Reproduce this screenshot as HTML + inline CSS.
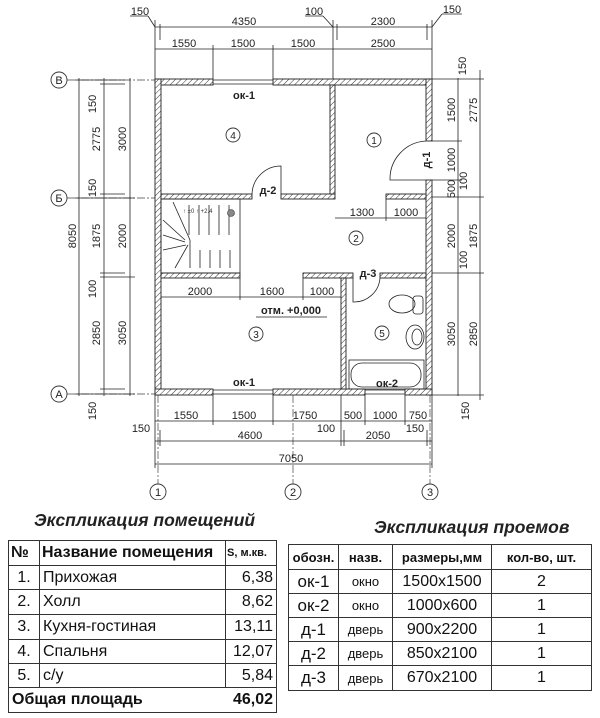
<!DOCTYPE html>
<html><head><meta charset="utf-8"><style>
html,body{margin:0;padding:0;background:#fff;}
svg{display:block;font-family:"Liberation Sans",sans-serif;}
.d{font-size:11px;fill:#222;}
.l{stroke:#222;stroke-width:0.8;fill:none;}
.ax{stroke:#444;stroke-width:0.7;stroke-dasharray:8 2 2 2;fill:none;}
.w{fill:url(#h);stroke:#222;stroke-width:0.9;}
table{border-collapse:collapse;position:absolute;font-family:"Liberation Sans",sans-serif;color:#111;table-layout:fixed;}
td{border:1.3px solid #333;padding:0 3px;font-size:16px;overflow:hidden;}
</style></head><body>
<div style="position:relative;width:600px;height:718px;overflow:hidden">
<svg width="600" height="500" viewBox="0 0 600 500">
<defs><pattern id="h" width="4" height="4" patternUnits="userSpaceOnUse" patternTransform="rotate(45)"><rect width="4" height="4" fill="#fff"/><line x1="0" y1="0" x2="0" y2="4" stroke="#333" stroke-width="1"/></pattern></defs>
<g class="ax"><line x1="67" y1="80" x2="155" y2="80"/><line x1="67" y1="198" x2="155" y2="198"/><line x1="67" y1="394" x2="155" y2="394"/>
<line x1="158" y1="395" x2="158" y2="484"/><line x1="293" y1="395" x2="293" y2="484"/><line x1="430" y1="395" x2="430" y2="484"/></g>
<g fill="#fff" stroke="#333" stroke-width="0.9"><circle cx="59" cy="80" r="8"/><circle cx="59" cy="198" r="8"/><circle cx="59" cy="394" r="8"/>
<circle cx="158" cy="492" r="8"/><circle cx="293" cy="492" r="8"/><circle cx="430" cy="492" r="8"/></g>
<g font-size="11" text-anchor="middle" fill="#222"><text x="59" y="84">В</text><text x="59" y="202">Б</text><text x="59" y="398">А</text>
<text x="158" y="496">1</text><text x="293" y="496">2</text><text x="430" y="496">3</text></g>
<rect class="w" x="155" y="79" width="58" height="6"/><rect class="w" x="273" y="79" width="159" height="6"/>
<line class="l" x1="213" y1="80" x2="273" y2="80"/><line class="l" x1="213" y1="84" x2="273" y2="84"/>
<rect class="w" x="155" y="79" width="6" height="316"/>
<rect class="w" x="426" y="79" width="6" height="62"/><rect class="w" x="426" y="180" width="6" height="215"/>
<rect class="w" x="155" y="389" width="58" height="6"/><rect class="w" x="273" y="389" width="92" height="6"/><rect class="w" x="405" y="389" width="27" height="6"/>
<line class="l" x1="213" y1="390" x2="273" y2="390"/><line class="l" x1="213" y1="394" x2="273" y2="394"/>
<line class="l" x1="365" y1="390" x2="405" y2="390"/><line class="l" x1="365" y1="394" x2="405" y2="394"/>
<rect class="w" x="161" y="194" width="91" height="5"/><rect class="w" x="281" y="194" width="54" height="5"/>
<rect class="w" x="330" y="85" width="5" height="109"/><rect class="w" x="386" y="194" width="40" height="5"/>
<rect class="w" x="161" y="273" width="79" height="5"/><rect class="w" x="303" y="273" width="50" height="5"/><rect class="w" x="380" y="273" width="46" height="5"/>
<rect class="w" x="341" y="278" width="5" height="111"/>
<path class="l" d="M281 194 V166 A29 29 0 0 0 252 194"/>
<path class="l" d="M426 180 H390 A38 38 0 0 1 426 141"/>
<path class="l" d="M353 278 V302 A26 26 0 0 0 380 278"/>
<g class="l"><rect x="161" y="199" width="79" height="74"/>
<line x1="189" y1="205" x2="189" y2="235"/><line x1="199" y1="205" x2="199" y2="235"/><line x1="209" y1="205" x2="209" y2="235"/><line x1="219" y1="205" x2="219" y2="235"/><line x1="229" y1="205" x2="229" y2="235"/>
<line x1="173" y1="202" x2="190" y2="240"/><line x1="163" y1="220" x2="185" y2="240"/><line x1="163" y1="235" x2="185" y2="242"/><line x1="163" y1="250" x2="186" y2="245"/><line x1="175" y1="268" x2="188" y2="245"/>
<line x1="190" y1="240" x2="190" y2="268"/><line x1="200" y1="250" x2="200" y2="268"/><line x1="210" y1="250" x2="210" y2="268"/><line x1="220" y1="250" x2="220" y2="268"/><line x1="230" y1="250" x2="230" y2="268"/></g>
<circle cx="231" cy="213" r="3.5" fill="#888" stroke="#333" stroke-width="0.6"/>
<text x="183" y="213" font-size="6" fill="#333">↑ ±0 ↑ +2.4</text>
<g class="l"><ellipse cx="402" cy="304" rx="13" ry="9"/><rect x="413" y="296" width="10" height="18" rx="3"/>
<ellipse cx="415" cy="337" rx="9" ry="12"/><ellipse cx="417" cy="337" rx="5" ry="8"/>
<rect x="349" y="360" width="75" height="29"/><rect x="351" y="363" width="70" height="24" rx="11"/></g>
<g fill="#fff" stroke="#333" stroke-width="0.9"><circle cx="233" cy="135" r="7"/><circle cx="374" cy="140" r="7"/><circle cx="356" cy="238" r="7"/><circle cx="256" cy="334" r="7"/><circle cx="382" cy="333" r="7"/></g>
<g font-size="10" text-anchor="middle" fill="#222"><text x="233" y="139">4</text><text x="374" y="144">1</text><text x="356" y="242">2</text><text x="256" y="338">3</text><text x="382" y="337">5</text></g>
<g font-size="11" font-weight="bold" fill="#222" text-anchor="middle"><text x="244" y="99">ок-1</text><text x="244" y="386">ок-1</text><text x="387" y="387">ок-2</text>
<text x="268" y="194">д-2</text><text x="368" y="277">д-3</text><text x="291" y="314">отм. +0,000</text>
<text transform="translate(430,160) rotate(-90)">д-1</text></g>
<line class="l" x1="256" y1="317" x2="327" y2="317"/>
<g class="l"><line x1="155" y1="27" x2="432" y2="27"/><line x1="155" y1="49" x2="432" y2="49"/>
<line x1="155" y1="20" x2="155" y2="79"/><line x1="160" y1="24" x2="160" y2="40"/><line x1="213" y1="45" x2="213" y2="79"/><line x1="273" y1="45" x2="273" y2="79"/><line x1="333" y1="20" x2="333" y2="79"/><line x1="337" y1="24" x2="337" y2="40"/><line x1="427" y1="24" x2="427" y2="40"/><line x1="432" y1="20" x2="432" y2="79"/>
<line x1="130" y1="16" x2="148" y2="16"/><line x1="148" y1="16" x2="155" y2="27"/><line x1="305" y1="16" x2="323" y2="16"/><line x1="323" y1="16" x2="333" y2="27"/><line x1="442" y1="14" x2="462" y2="14"/><line x1="442" y1="14" x2="432" y2="27"/></g>
<g class="d" text-anchor="middle"><text x="140" y="15">150</text><text x="244" y="25">4350</text><text x="314" y="15">100</text><text x="383" y="25">2300</text><text x="452" y="13">150</text>
<text x="184" y="47">1550</text><text x="243" y="47">1500</text><text x="303" y="47">1500</text><text x="383" y="47">2500</text></g>
<g class="l"><line x1="79" y1="78" x2="79" y2="396"/><line x1="104" y1="78" x2="104" y2="396"/><line x1="130" y1="78" x2="130" y2="396"/>
<line x1="75" y1="80" x2="125" y2="80"/><line x1="100" y1="84" x2="125" y2="84"/><line x1="100" y1="194" x2="125" y2="194"/><line x1="75" y1="198" x2="135" y2="198"/><line x1="100" y1="273" x2="125" y2="273"/><line x1="100" y1="277" x2="135" y2="277"/><line x1="100" y1="389" x2="125" y2="389"/><line x1="75" y1="394" x2="135" y2="394"/></g>
<g class="d" text-anchor="middle"><text transform="translate(96,104) rotate(-90)">150</text><text transform="translate(100,139) rotate(-90)">2775</text><text transform="translate(126,139) rotate(-90)">3000</text>
<text transform="translate(96,188) rotate(-90)">150</text><text transform="translate(76,236) rotate(-90)">8050</text><text transform="translate(100,236) rotate(-90)">1875</text><text transform="translate(126,236) rotate(-90)">2000</text>
<text transform="translate(96,289) rotate(-90)">100</text><text transform="translate(100,333) rotate(-90)">2850</text><text transform="translate(126,333) rotate(-90)">3050</text><text transform="translate(96,411) rotate(-90)">150</text></g>
<g class="l"><line x1="458" y1="78" x2="458" y2="396"/><line x1="480" y1="70" x2="480" y2="400"/>
<line x1="432" y1="79" x2="484" y2="79"/><line x1="432" y1="141" x2="462" y2="141"/><line x1="432" y1="180" x2="462" y2="180"/><line x1="432" y1="197" x2="484" y2="197"/><line x1="432" y1="273" x2="484" y2="273"/><line x1="432" y1="395" x2="484" y2="395"/></g>
<g class="d" text-anchor="middle"><text transform="translate(466,66) rotate(-90)">150</text><text transform="translate(455,110) rotate(-90)">1500</text><text transform="translate(477,110) rotate(-90)">2775</text>
<text transform="translate(455,160) rotate(-90)">1000</text><text transform="translate(455,189) rotate(-90)">500</text><text transform="translate(467,181) rotate(-90)">100</text>
<text transform="translate(455,236) rotate(-90)">2000</text><text transform="translate(477,236) rotate(-90)">1875</text><text transform="translate(467,260) rotate(-90)">100</text>
<text transform="translate(455,334) rotate(-90)">3050</text><text transform="translate(477,334) rotate(-90)">2850</text><text transform="translate(469,411) rotate(-90)">150</text></g>
<g class="l"><line x1="161" y1="297" x2="341" y2="297"/><line x1="240" y1="278" x2="240" y2="300"/><line x1="303" y1="278" x2="303" y2="300"/><line x1="335" y1="218" x2="426" y2="218"/><line x1="386" y1="199" x2="386" y2="221"/></g>
<g class="d" text-anchor="middle"><text x="200" y="295">2000</text><text x="272" y="295">1600</text><text x="322" y="295">1000</text><text x="362" y="216">1300</text><text x="406" y="216">1000</text></g>
<g class="l"><line x1="155" y1="421" x2="432" y2="421"/><line x1="155" y1="441" x2="432" y2="441"/><line x1="155" y1="464" x2="432" y2="464"/>
<line x1="155" y1="395" x2="155" y2="468"/><line x1="160" y1="430" x2="160" y2="446"/><line x1="213" y1="395" x2="213" y2="425"/><line x1="273" y1="395" x2="273" y2="425"/><line x1="341" y1="395" x2="341" y2="446"/><line x1="344" y1="430" x2="344" y2="446"/><line x1="365" y1="395" x2="365" y2="425"/><line x1="405" y1="395" x2="405" y2="425"/><line x1="427" y1="430" x2="427" y2="446"/><line x1="432" y1="395" x2="432" y2="468"/></g>
<g class="d" text-anchor="middle"><text x="186" y="419">1550</text><text x="244" y="419">1500</text><text x="305" y="419">1750</text><text x="353" y="419">500</text><text x="385" y="419">1000</text><text x="418" y="419">750</text>
<text x="141" y="432">150</text><text x="250" y="439">4600</text><text x="326" y="432">100</text><text x="378" y="439">2050</text><text x="415" y="432">150</text><text x="291" y="462">7050</text></g>
</svg>
<div style="position:absolute;left:34px;top:510px;font:italic bold 17.5px 'Liberation Sans',sans-serif;color:#222">Экспликация помещений</div>
<table style="left:8px;top:540px;width:268px">
<colgroup><col style="width:31px"><col style="width:186px"><col style="width:51px"></colgroup>
<tr style="height:25px"><td style="font-weight:bold;padding:0 2px">№</td><td style="font-weight:bold;white-space:nowrap;padding:0 2px">Название помещения</td><td style="font-weight:bold;font-size:11px;white-space:nowrap;padding:0 1px">S, м.кв.</td></tr>
<tr style="height:24px"><td style="text-align:center">1.</td><td>Прихожая</td><td style="text-align:right">6,38</td></tr>
<tr style="height:25px"><td style="text-align:center">2.</td><td>Холл</td><td style="text-align:right">8,62</td></tr>
<tr style="height:25px"><td style="text-align:center">3.</td><td>Кухня-гостиная</td><td style="text-align:right">13,11</td></tr>
<tr style="height:24px"><td style="text-align:center">4.</td><td>Спальня</td><td style="text-align:right">12,07</td></tr>
<tr style="height:24px"><td style="text-align:center">5.</td><td>с/у</td><td style="text-align:right">5,84</td></tr>
<tr style="height:25px"><td colspan="2" style="font-weight:bold;border-right:none">Общая площадь</td><td style="text-align:right;font-weight:bold;border-left:none">46,02</td></tr>
</table>
<div style="position:absolute;left:374px;top:517px;font:italic bold 17.5px 'Liberation Sans',sans-serif;color:#222">Экспликация проемов</div>
<table style="left:288px;top:544px;width:303px;text-align:center">
<colgroup><col style="width:50px"><col style="width:54px"><col style="width:99px"><col style="width:100px"></colgroup>
<tr style="height:25px"><td style="font-weight:bold;font-size:13px;padding:0">обозн.</td><td style="font-weight:bold;font-size:13px;padding:0">назв.</td><td style="font-weight:bold;font-size:13px;padding:0;white-space:nowrap">размеры,мм</td><td style="font-weight:bold;font-size:13px;padding:0;white-space:nowrap">кол-во, шт.</td></tr>
<tr style="height:24px"><td style="font-size:17px;padding:0">ок-1</td><td style="font-size:13px;padding:0">окно</td><td>1500x1500</td><td>2</td></tr>
<tr style="height:24px"><td style="font-size:17px;padding:0">ок-2</td><td style="font-size:13px;padding:0">окно</td><td>1000x600</td><td>1</td></tr>
<tr style="height:24px"><td style="font-size:17px;padding:0">д-1</td><td style="font-size:13px;padding:0">дверь</td><td>900x2200</td><td>1</td></tr>
<tr style="height:24px"><td style="font-size:17px;padding:0">д-2</td><td style="font-size:13px;padding:0">дверь</td><td>850x2100</td><td>1</td></tr>
<tr style="height:25px"><td style="font-size:17px;padding:0">д-3</td><td style="font-size:13px;padding:0">дверь</td><td>670x2100</td><td>1</td></tr>
</table>
</div>
</body></html>
